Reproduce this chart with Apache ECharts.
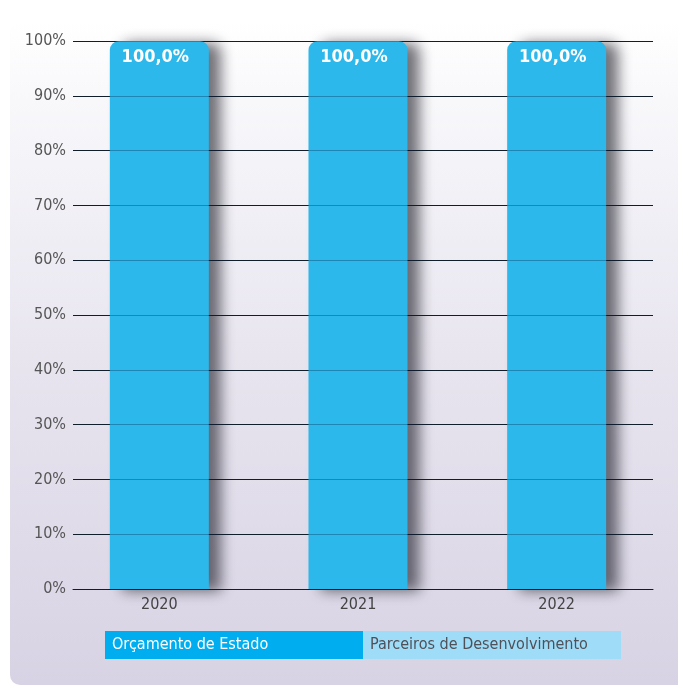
<!DOCTYPE html>
<html>
<head>
<meta charset="utf-8">
<script src="https://cdn.jsdelivr.net/npm/echarts@6/dist/echarts.min.js"></script>
<style>
  html, body { margin: 0; padding: 0; background: #ffffff; }
  #chart { width: 678px; height: 687px; }
</style>
</head>
<body>
<div id="chart"></div>
<script>
// Funding source shares per year (percent)
const years = ['2020', '2021', '2022'];
const orcamentoEstado = [100, 100, 100];
const parceirosDesenvolvimento = [0, 0, 0];
const seriesNames = ['Orçamento de Estado', 'Parceiros de Desenvolvimento'];

const FONT = "'Liberation Sans Narrow', 'DejaVu Sans Condensed', Roboto, sans-serif";

const chart = echarts.init(document.getElementById('chart'), null, { renderer: 'canvas' });

const legendBox = (bg, color) => ({
  backgroundColor: bg,
  color: color,
  fontFamily: FONT,
  fontSize: 16,
  width: 251,
  height: 28,
  lineHeight: 28,
  padding: [0, 0, 0, 7]
});

chart.setOption({
  animation: false,
  graphic: [{
    type: 'rect',
    silent: true,
    z: -10,
    shape: { x: 10, y: 22, width: 700, height: 663, r: 10 },
    style: {
      fill: new echarts.graphic.LinearGradient(0, 0, 0, 1, [
        { offset: 0, color: '#ffffff' },
        { offset: 0.12, color: '#f8f8fb' },
        { offset: 0.5, color: '#e8e5ef' },
        { offset: 1, color: '#d8d3e4' }
      ])
    }
  }],
  legend: {
    left: 95,
    top: 626,
    itemWidth: 0,
    itemHeight: 0,
    itemGap: -5,
    selectedMode: false,
    data: [
      { name: seriesNames[0], textStyle: legendBox('#00aeef', '#ffffff') },
      { name: seriesNames[1], textStyle: legendBox('#9fdcf8', '#505058') }
    ]
  },
  grid: [
    { left: 73, right: 25, top: 41, bottom: 98 },
    { left: 60, right: 22, top: 41, bottom: 98 }
  ],
  xAxis: [
    {
      gridIndex: 0, type: 'value', min: 0, max: 1,
      axisLine: { show: true, onZero: false, lineStyle: { color: '#1a1a1a', width: 1 } },
      axisTick: { show: false }, axisLabel: { show: false }, splitLine: { show: false }
    },
    {
      gridIndex: 1, type: 'category', data: years,
      axisLine: { show: false }, axisTick: { show: false },
      axisLabel: { color: '#444444', fontFamily: FONT, fontSize: 16, margin: 8 }
    }
  ],
  yAxis: [
    {
      gridIndex: 0, type: 'value', min: 0, max: 100, interval: 10,
      axisLine: { show: false }, axisTick: { show: false },
      axisLabel: { formatter: '{value}%', color: '#555555', fontFamily: FONT, fontSize: 16, margin: 7 },
      splitLine: { lineStyle: { color: '#1a1a1a', width: 1 } }
    },
    {
      // faint copy of the gridlines drawn above the bars
      gridIndex: 0, type: 'value', min: 0, max: 100, interval: 10, z: 10,
      axisLine: { show: false }, axisTick: { show: false }, axisLabel: { show: false },
      splitLine: { lineStyle: { color: 'rgba(0,40,80,0.35)', width: 1 } }
    },
    {
      gridIndex: 1, type: 'value', min: 0, max: 100, show: false
    }
  ],
  series: [
    {
      name: seriesNames[0],
      type: 'bar',
      xAxisIndex: 1,
      yAxisIndex: 2,
      stack: 'fonte',
      barWidth: 99,
      data: orcamentoEstado,
      itemStyle: {
        color: '#2db8ec',
        borderRadius: [9, 9, 0, 0],
        shadowColor: 'rgba(20,20,30,0.6)',
        shadowBlur: 14,
        shadowOffsetX: 12,
        shadowOffsetY: 2
      },
      label: {
        show: true,
        position: 'insideTop',
        distance: 7,
        offset: [-4, 0],
        formatter: p => p.value.toFixed(1).replace('.', ',') + '%',
        color: '#ffffff',
        fontFamily: FONT,
        fontWeight: 'bold',
        fontSize: 18
      }
    },
    {
      name: seriesNames[1],
      type: 'bar',
      xAxisIndex: 1,
      yAxisIndex: 2,
      stack: 'fonte',
      barWidth: 99,
      data: parceirosDesenvolvimento,
      itemStyle: { color: '#9fdcf8' }
    }
  ]
});
</script>
</body>
</html>
